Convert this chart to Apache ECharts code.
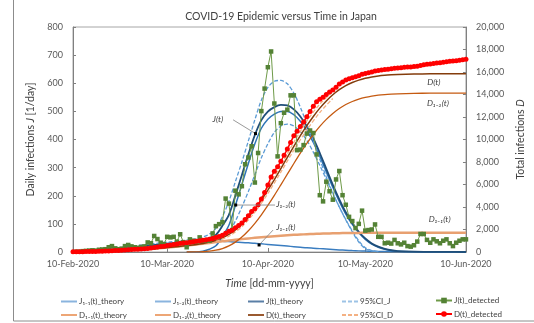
<!DOCTYPE html>
<html><head><meta charset="utf-8">
<script src="https://cdn.jsdelivr.net/npm/echarts@6/dist/echarts.min.js"></script>
<style>html,body{margin:0;padding:0;background:#fff}#c{width:534px;height:323px}</style>
</head><body><div id="c"></div>
<script>
// ---- Data (day 0 = 10-Feb-2020) ----
const tickDays = [0, 29, 60, 90, 121];
const tickLabels = ['10-Feb-2020', '10-Mar-2020', '10-Apr-2020', '10-May-2020', '10-Jun-2020'];

// daily detected infections, days 1..121
const jDetectedFirstDay = 1;
const jDetected = [
  1,1,3,4,5,6,5,8,9,10,
  17,21,13,10,12,21,25,20,17,15,
  18,20,34,31,57,46,33,28,54,52,
  54,37,63,35,17,45,40,37,52,40,
  42,40,66,92,99,106,190,172,78,218,
  205,234,312,336,376,247,352,501,581,657,
  713,528,340,458,495,506,557,557,362,364,
  380,421,432,423,347,202,180,250,216,186,
  258,288,202,168,125,110,85,100,147,76,
  78,80,98,54,54,31,33,30,43,31,
  27,33,21,19,24,37,64,64,43,33,
  45,38,31,40,45,31,21,33,40,45,45
];
// total detected infections, days 0..121
const dDetectedFirstDay = 0;
const dDetected = [
  26,27,28,31,35,40,46,51,59,68,
  78,95,116,129,139,151,172,197,217,234,
  249,267,287,321,352,409,455,488,516,570,
  622,676,713,776,811,828,873,913,950,1002,
  1042,1084,1124,1190,1282,1381,1487,1677,1849,1927,
  2145,2350,2584,2896,3232,3608,3855,4207,4708,5289,
  5946,6659,7187,7567,8065,8600,9146,9743,10340,10742,
  11146,11566,12027,12499,12962,13349,13581,13761,14011,14222,
  14403,14651,14929,15121,15279,15394,15494,15569,15659,15796,
  15862,15930,16000,16088,16132,16186,16217,16250,16280,16323,
  16354,16381,16414,16435,16454,16478,16515,16579,16643,16686,
  16719,16764,16802,16833,16873,16918,16949,16970,17003,17043,17088,17133
];

// theory curves sampled at these days
const theoryDays = [0,5,10,15,20,25,30,35,38,40,42,44,46,48,50,52,54,56,58,60,62,64,66,68,70,72,74,76,78,80,82,84,86,88,90,92,94,96,98,100,105,110,115,121];
const j11Theory = [0.5,3,7,12,18,25,31,36,38.5,39.5,39.5,39,38,37,35.5,34,32.5,31,29,27,25,23,21,19,17,15,13.5,12,10.5,9,7.5,6.2,5,4,3.2,2.5,2,1.5,1.2,0.9,0.5,0.3,0.15,0.05];
const j12Theory = [null,null,null,null,null,null,null,0,0,3,10,22,55,95,165,240,315,385,440,472,490,500,500,488,465,432,390,340,285,230,180,135,98,68,45,28,17,10,5,2.5,0.5,0,0,0];
const jTheory   = [0.5,3,7,12,18,25,31,36,38.5,42.5,49.5,61,93,132,200.5,274,347.5,416,469,499,515,523,521,507,482,447,403.5,352,295.5,239,187.5,141.2,103,72,48.2,30.5,19,11.5,6.2,3.4,1,0.3,0.15,0.05];
const ciJUpper  = [1,5,10,16,23,30,36,42,47,53,64,84,125,180,250,320,395,470,540,585,607,610,598,565,515,455,395,330,267,210,160,114,72,35,12,4,1,null,null,null,null,null,null,null];
const ciJLower  = [0,2,5,9,14,19,24,29,31,33,35,38,48,70,110,160,215,275,335,385,425,448,455,448,428,397,355,308,258,208,160,115,75,40,15,5,1,null,null,null,null,null,null,null];
const d11Theory = [28,43,76,124,195,295,418,570,665,736,808,879,950,1017,1083,1145,1204,1261,1314,1363,1409,1451,1489,1523,1553,1580,1605,1625,1644,1660,1673,1683,1692,1699,1704,1708,1711,1714,1716,1717,1718,1719,1720,1720];
const d12Theory = [null,null,null,null,null,null,null,0,5,24,72,161,310,543,877,1325,1886,2549,3306,4137,5031,5969,6921,7867,8787,9650,10445,11165,11786,12320,12757,13107,13378,13581,13736,13852,13939,13996,14034,14063,14102,14116,14120,14120];
const dTheory   = [28,43,76,124,195,295,418,570,670,760,880,1040,1260,1560,1960,2470,3090,3810,4620,5500,6440,7420,8410,9390,10340,11230,12050,12790,13430,13980,14430,14790,15070,15280,15440,15560,15650,15710,15750,15780,15820,15835,15840,15840];
const ciDDays  = [44,48,52,56,60,64,68,72,76,80];
const ciDUpper = [1100,1700,2650,4000,5750,7700,9750,11650,13150,14250];
const ciDLower = [950,1400,2250,3550,5200,7100,9050,10850,12400,13650];

const names = {
  j11: 'J₁₋₁(t)_theory', j12: 'J₁₋₂(t)_theory', j: 'J(t)_theory', ciJ: '95%CI_J', jDet: 'J(t)_detected',
  d11: 'D₁₋₁(t)_theory', d12: 'D₁₋₂(t)_theory', d: 'D(t)_theory', ciD: '95%CI_D', dDet: 'D(t)_detected'
};

// annotations in data coordinates (axis 0 = daily, axis 1 = total)
const annotations = [
  {text: 'J(t)', axis: 0, at: [44.6, 472], align: 'center', from: [49.3, 470], to: [56.2, 421]},
  {text: 'J₁₋₂(t)', axis: 0, at: [62.6, 168], align: 'left', from: [62.2, 167], to: [50.1, 167]},
  {text: 'J₁₋₁(t)', axis: 0, at: [62.6, 88], align: 'left', from: [61.6, 78], to: [57.3, 25]},
  {text: 'D(t)', axis: 1, at: [111.1, 15100], align: 'center'},
  {text: 'D₁₋₂(t)', axis: 1, at: [112.4, 13200], align: 'center'},
  {text: 'D₁₋₁(t)', axis: 1, at: [112.9, 2950], align: 'center'}
];

// ---- Chart ----
const FONT = "Lato, 'Noto Sans', 'DejaVu Sans', sans-serif";
const xy = (days, vals) => days.map((d, i) => [d, vals[i]]).filter(p => p[1] != null);
const seq = (first, vals) => vals.map((v, i) => [first + i, v]);

function theory(name, data, yAxisIndex, color, width, dashed) {
  return {
    name, type: 'line', yAxisIndex, data, smooth: 0.3, symbol: 'none', showSymbol: false,
    lineStyle: {color, width, type: dashed ? [4, 2] : 'solid'}, itemStyle: {color},
    emphasis: {disabled: true}, z: 2
  };
}

const series = [
  theory(names.j11, xy(theoryDays, j11Theory), 0, '#3A7DC0', 1.5),
  theory(names.j12, xy(theoryDays, j12Theory), 0, '#2E75B6', 1.5),
  theory(names.j, xy(theoryDays, jTheory), 0, '#1F4E79', 1.8),
  theory(names.ciJ, xy(theoryDays, ciJUpper), 0, '#5B9BD5', 1.3, true),
  theory(names.ciJ, xy(theoryDays, ciJLower), 0, '#5B9BD5', 1.3, true),
  theory(names.d11, xy(theoryDays, d11Theory), 1, '#E8A070', 2.5),
  theory(names.d12, xy(theoryDays, d12Theory), 1, '#C55A11', 1.3),
  theory(names.d, xy(theoryDays, dTheory), 1, '#843C0C', 1.5),
  theory(names.ciD, xy(ciDDays, ciDUpper), 1, '#F4B183', 1.3, true),
  theory(names.ciD, xy(ciDDays, ciDLower), 1, '#F4B183', 1.3, true),
  {
    name: names.jDet, type: 'line', yAxisIndex: 0, data: seq(jDetectedFirstDay, jDetected),
    symbol: 'rect', symbolSize: 4.5, showAllSymbol: true,
    lineStyle: {color: '#6E9A48', width: 1}, itemStyle: {color: '#548235'}, z: 3,
    emphasis: {disabled: true}
  },
  {
    name: names.dDet, type: 'line', yAxisIndex: 1, data: seq(dDetectedFirstDay, dDetected),
    symbol: 'circle', symbolSize: 5, showAllSymbol: true,
    lineStyle: {color: '#FF0000', width: 1.5}, itemStyle: {color: '#FF0000'}, z: 4,
    emphasis: {disabled: true}
  }
];

// legend: 2 rows x 5 columns
const legendOrder = [
  [names.j11, names.j12, names.j, names.ciJ, names.jDet],
  [names.d11, names.d12, names.d, names.ciD, names.dDet]
];
const legendKinds = [['line', 'line', 'line', 'dash', 'marker'], ['line', 'line', 'line', 'dash', 'marker']];
const legendColors = [['#8AB4DE', '#8AB4DE', '#5A7FA6', '#9DC3E6', '#6E9A48'], ['#EDA676', '#EDA676', '#9A5A30', '#F4B183', '#FF0000']];
const legendCols = [61, 155, 248, 342, 435];
const legendRowCenters = [298.5, 312];
const DASH_ICON = 'path://M0,0h4v2h-4z M6,0h4v2h-4z M12,0h4v2h-4z';
const legends = [];
legendOrder.forEach((row, r) => row.forEach((nm, c) => {
  const kind = legendKinds[r][c];
  const h = kind === 'marker' ? 7 : 2;
  const item = {name: nm};
  if (kind === 'line') item.icon = 'rect';
  if (kind === 'dash') item.icon = DASH_ICON;
  if (kind !== 'marker') item.itemStyle = {color: legendColors[r][c]};
  legends.push({
    data: [item], left: legendCols[c], top: legendRowCenters[r] - h / 2 + (kind === 'marker' ? 1.5 : 0),
    itemWidth: 16, itemHeight: h,
    padding: 0, selectedMode: false, itemGap: 0,
    textStyle: {fontSize: 8, color: '#404040', fontFamily: FONT, padding: [0, 0, 0, -3]}
  });
}));

const axisTxt = {fontSize: 9, color: '#595959', fontFamily: FONT};
const nameStyle = {fontSize: 10.5, color: '#404040', fontFamily: FONT,
  rich: {i: {fontStyle: 'italic', fontSize: 10.5, color: '#404040', fontFamily: FONT}}};
const option = {
  animation: false,
  backgroundColor: '#fff',
  title: {
    text: 'COVID-19 Epidemic versus Time in Japan', left: 276, top: 6, textAlign: 'center',
    textStyle: {fontSize: 10.5, fontWeight: 'normal', color: '#404040', fontFamily: FONT}
  },
  legend: legends,
  grid: {left: 73, top: 27, width: 400, height: 225, show: true, borderColor: '#a6a6a6', borderWidth: 1},
  xAxis: {
    type: 'value', min: 0, max: 121,
    name: '{i|Time} [dd-mm-yyyy]', nameLocation: 'middle', nameGap: 26, nameTextStyle: nameStyle,
    axisLine: {show: true, lineStyle: {color: '#808080'}},
    axisTick: {show: true, inside: true, length: 4, customValues: tickDays, lineStyle: {color: '#808080'}},
    axisLabel: Object.assign({customValues: tickDays, margin: 8,
      formatter: v => tickLabels[tickDays.indexOf(v)] || ''}, axisTxt),
    splitLine: {show: false}
  },
  yAxis: [
    {
      type: 'value', min: 0, max: 800, interval: 100, position: 'left',
      name: 'Daily infections {i|J} [1/day]', nameLocation: 'middle', nameGap: 35, nameRotate: 90,
      nameTextStyle: nameStyle,
      axisLine: {show: true, lineStyle: {color: '#808080'}},
      axisTick: {show: true, inside: true, length: 3, lineStyle: {color: '#808080'}},
      axisLabel: Object.assign({margin: 10}, axisTxt),
      splitLine: {show: false}
    },
    {
      type: 'value', min: 0, max: 20000, interval: 2000, position: 'right',
      name: 'Total infections {i|D}', nameLocation: 'middle', nameGap: 47, nameRotate: 90,
      nameTextStyle: nameStyle,
      axisLine: {show: true, lineStyle: {color: '#808080'}},
      axisTick: {show: true, inside: true, length: 3, lineStyle: {color: '#808080'}},
      axisLabel: Object.assign({margin: 10, formatter: v => v.toLocaleString('en-US')}, axisTxt),
      splitLine: {show: false}
    }
  ],
  series
};

const chart = echarts.init(document.getElementById('c'));
chart.setOption(option);

// annotations + outer border
const px = (axis, p) => chart.convertToPixel({xAxisIndex: 0, yAxisIndex: axis}, p);
const graphics = [{
  type: 'rect', shape: {x: 13.5, y: -5, width: 600, height: 326}, silent: true,
  style: {fill: null, stroke: '#8c8c8c', lineWidth: 1}, z: 0
}];
annotations.forEach(a => {
  const p = px(a.axis, a.at);
  graphics.push({
    type: 'text', x: p[0], y: p[1], z: 10, silent: true,
    style: {text: a.text, fontSize: 8.5, fontStyle: 'italic', fill: '#404040', fontFamily: FONT,
      align: a.align, verticalAlign: 'middle'}
  });
  if (a.from) {
    const f = px(a.axis, a.from), t = px(a.axis, a.to);
    graphics.push({type: 'line', z: 10, silent: true, shape: {x1: f[0], y1: f[1], x2: t[0], y2: t[1]},
      style: {stroke: '#7f7f7f', lineWidth: 0.8}});
    graphics.push({type: 'rect', z: 10, silent: true, shape: {x: t[0] - 1.5, y: t[1] - 1.5, width: 3, height: 3},
      style: {fill: '#000'}});
  }
});
chart.setOption({graphic: graphics});
</script>
</body></html>
